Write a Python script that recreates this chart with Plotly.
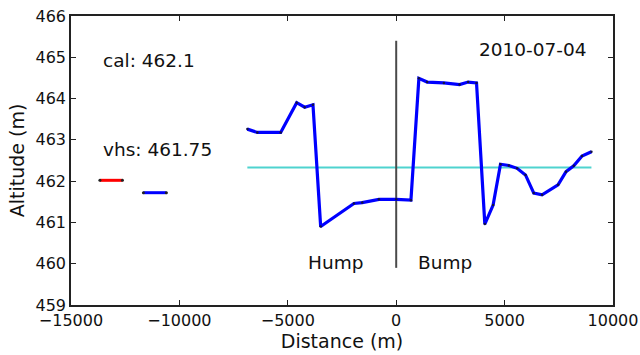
import plotly.graph_objects as go

# Altitude profile along the track (m)
profile_x = [-6866, -6406, -5327, -4590, -4221, -3839, -3484, -1949, -1567, -797, 0, 680,
             1046, 1429, 2198, 2922, 3318, 3705, 4088, 4470, 4811, 5194, 5576, 5963,
             6346, 6728, 7465, 7834, 8189, 8571, 9005]
profile_y = [463.26, 463.18, 463.18, 463.90, 463.79, 463.85, 460.90, 461.46, 461.48, 461.56,
             461.56, 461.54, 464.49, 464.40, 464.38, 464.34, 464.40, 464.38, 460.96, 461.42,
             462.41, 462.38, 462.31, 462.15, 461.71, 461.67, 461.91, 462.23, 462.37, 462.61,
             462.71]

# Reference segments
cal_x = [-13668, -12627]
cal_y = [462.02, 462.02]
vhs_x = [-11659, -10599]
vhs_y = [461.72, 461.72]

mean_x = [-6866, 9005]
mean_y = [462.33, 462.33]

divider_x = [0, 0]
divider_y = [459.9, 465.4]

x_ticks = [-15000, -10000, -5000, 0, 5000, 10000]
x_tick_labels = ["\u221215000", "\u221210000", "\u22125000", "0", "5000", "10000"]
y_ticks = [459, 460, 461, 462, 463, 464, 465, 466]

font = "DejaVu Sans, Arial, sans-serif"

fig = go.Figure()
fig.add_trace(go.Scatter(x=mean_x, y=mean_y, mode="lines",
                         line=dict(color="#4fd3cf", width=2)))
fig.add_trace(go.Scatter(x=divider_x, y=divider_y, mode="lines",
                         line=dict(color="#4a4a4a", width=2)))
fig.add_trace(go.Scatter(x=cal_x, y=cal_y, mode="lines+markers",
                         line=dict(color="#ff0000", width=3),
                         marker=dict(color="#222222", size=3)))
fig.add_trace(go.Scatter(x=vhs_x, y=vhs_y, mode="lines+markers",
                         line=dict(color="#0000ff", width=3),
                         marker=dict(color="#222222", size=3)))
fig.add_trace(go.Scatter(x=profile_x, y=profile_y, mode="lines+markers",
                         line=dict(color="#0000ff", width=3.2),
                         marker=dict(color="#111144", size=2.5)))

annotations = [
    dict(x=-13608, y=464.93, text="cal: 462.1"),
    dict(x=-13608, y=462.76, text="vhs: 461.75"),
    dict(x=3719, y=465.18, text="2010-07-04"),
    dict(x=-4161, y=460.04, text="Hump"),
    dict(x=906, y=460.04, text="Bump"),
]
for a in annotations:
    fig.add_annotation(x=a["x"], y=a["y"], text=a["text"], showarrow=False,
                       xanchor="left", yanchor="middle",
                       font=dict(family=font, size=18.5, color="#111111"))

axis_common = dict(showgrid=False, zeroline=False, showline=True, mirror="allticks",
                   linecolor="#222222", linewidth=1.5, ticks="inside", ticklen=5,
                   tickwidth=1, tickcolor="#222222", automargin=False,
                   tickfont=dict(family=font, size=16, color="#111111"),
                   title_font=dict(family=font, size=19, color="#111111"))

fig.update_xaxes(range=[-15000, 10000], tickvals=x_ticks, ticktext=x_tick_labels,
                 title_text="Distance (m)", title_standoff=4, **axis_common)
fig.update_yaxes(range=[459, 466], tickvals=y_ticks,
                 title_text="Altitude (m)", title_standoff=6, **axis_common)

fig.update_layout(width=640, height=355, showlegend=False,
                  plot_bgcolor="white", paper_bgcolor="white",
                  margin=dict(l=71, r=27, t=16, b=50))

fig.write_html("out.html")
